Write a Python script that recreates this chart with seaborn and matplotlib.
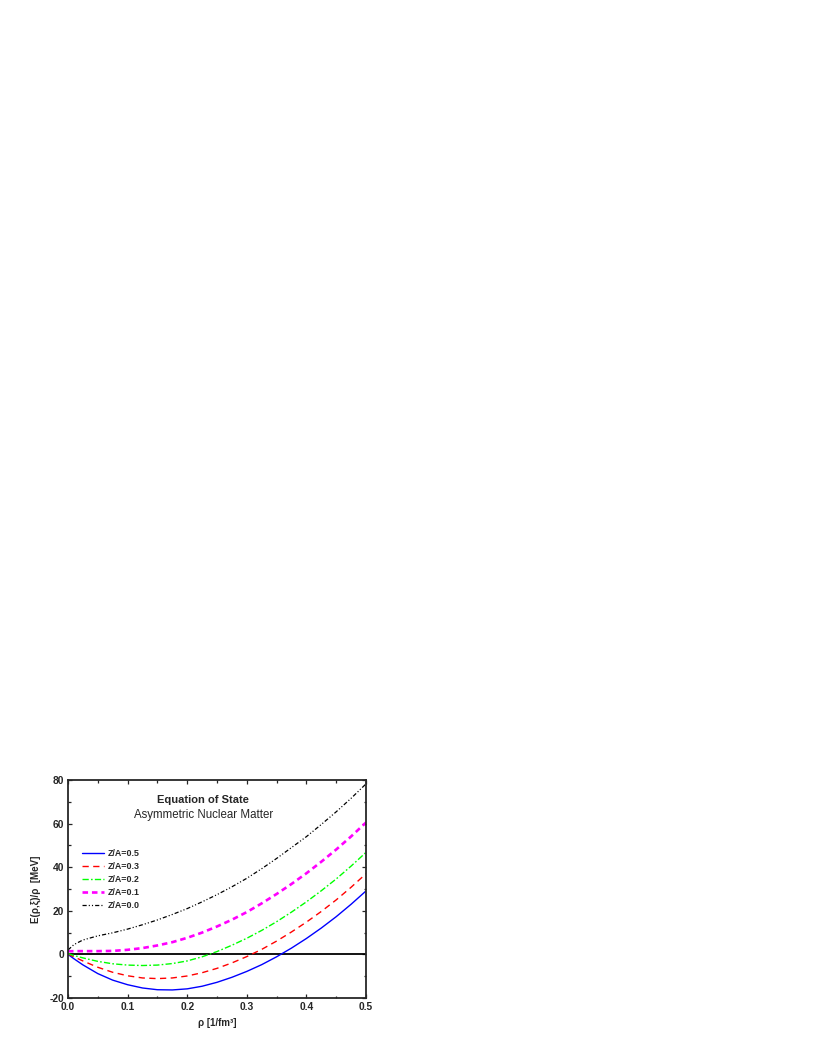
import matplotlib
matplotlib.use("Agg")
import matplotlib.pyplot as plt
from matplotlib.ticker import MultipleLocator
import seaborn as sns

# density grid [1/fm^3] and E/A [MeV]
rho = [0, 0.01, 0.025, 0.05, 0.075, 0.1, 0.125, 0.15, 0.175, 0.2, 0.225,
       0.25, 0.275, 0.3, 0.325, 0.35, 0.375, 0.4, 0.425, 0.45, 0.475, 0.5]
za_05 = [0, -2.0, -4.8, -8.8, -11.8, -13.9, -15.4, -16.2, -16.3, -15.8, -14.6,
         -12.8, -10.5, -7.8, -4.7, -1.1, 2.9, 7.3, 12.1, 17.3, 23.0, 29.1]
za_03 = [0.2, -1.1, -3.0, -5.9, -8.2, -9.8, -10.8, -11.1, -10.8, -9.9, -8.4,
         -6.4, -3.9, -1.0, 2.3, 6.1, 10.3, 14.8, 19.7, 25.0, 30.8, 37.0]
za_02 = [0.4, -0.5, -1.6, -3.2, -4.3, -4.9, -5.1, -4.9, -4.2, -3.0, -1.1,
         1.3, 4.2, 7.4, 11.0, 15.0, 19.4, 24.1, 29.2, 34.6, 40.5, 46.8]
za_01 = [1.4, 1.5, 1.5, 1.5, 1.6, 2.1, 2.9, 4.1, 5.6, 7.6, 10.0,
         12.8, 15.9, 19.4, 23.4, 27.7, 32.3, 37.2, 42.5, 48.1, 54.1, 60.5]
za_00 = [2.0, 4.5, 6.6, 8.5, 9.9, 11.6, 13.6, 15.8, 18.3, 21.0, 24.1,
         27.4, 31.0, 34.9, 39.3, 44.0, 49.0, 54.0, 59.6, 65.4, 71.6, 78.2]
labels = ["Z/A=0.5", "Z/A=0.3", "Z/A=0.2", "Z/A=0.1", "Z/A=0.0"]

sns.set_style("ticks")
plt.rcParams['font.family'] = ['Liberation Sans', 'DejaVu Sans']
plt.rcParams['lines.scale_dashes'] = False
plt.rcParams['axes.unicode_minus'] = False

fig = plt.figure(figsize=(8.17, 10.58), dpi=100)
ax = fig.add_axes([0.0832, 0.0567, 0.3648, 0.2061])

# line styles per curve
styles = [
    dict(color="#0000ff", linewidth=1.0, linestyle="-"),
    dict(color="#ff0000", linewidth=1.0, linestyle=(0, (4.5, 3.2))),
    dict(color="#00ff00", linewidth=1.0, linestyle=(0, (4.5, 1.6, 1.2, 1.6))),
    dict(color="#ff00ff", linewidth=1.9, linestyle=(0, (4, 2.8))),
    dict(color="black", linewidth=0.9, linestyle=(0, (3, 1.5, 0.8, 1.5, 0.8, 1.5))),
]
for vals, lab, st in zip([za_05, za_03, za_02, za_01, za_00], labels, styles):
    sns.lineplot(x=rho, y=vals, ax=ax, label=lab, **st)

ax.axhline(0, color="black", linewidth=1.3, zorder=1)

ax.set_xlim(0, 0.5)
ax.set_ylim(-20, 80)
ax.xaxis.set_major_locator(MultipleLocator(0.1))
ax.xaxis.set_minor_locator(MultipleLocator(0.05))
ax.yaxis.set_major_locator(MultipleLocator(20))
ax.yaxis.set_minor_locator(MultipleLocator(10))
ax.set_xticks([0, 0.1, 0.2, 0.3, 0.4, 0.5])
ax.set_xticklabels(["0.0", "0.1", "0.2", "0.3", "0.4", "0.5"])
ax.tick_params(which="both", direction="in", top=True, right=True,
               labelsize=7.4, width=0.9, pad=3)
ax.tick_params(which="major", length=3.2)
ax.tick_params(which="minor", length=1.8)
for lab in ax.get_xticklabels() + ax.get_yticklabels():
    lab.set_fontweight("bold")
for sp in ax.spines.values():
    sp.set_linewidth(1.3)
    sp.set_visible(True)

ax.set_xlabel("ρ [1/fm³]", fontsize=7, fontweight="bold", labelpad=4)
ax.set_ylabel("E(ρ,ξ)/ρ  [MeV]", fontsize=7, fontweight="bold", labelpad=6)

ax.text(0.227, 71, "Equation of State", fontsize=8, fontweight="bold",
        ha="center", va="center")
ax.text(0.227, 64, "Asymmetric Nuclear Matter", fontsize=8.3,
        ha="center", va="center")

leg = ax.legend(loc="center left", bbox_to_anchor=(0.047, 0.545), frameon=False,
                fontsize=6.4, handlelength=2.5, handletextpad=0.4,
                labelspacing=0.45, borderpad=0, borderaxespad=0)
for t in leg.get_texts():
    t.set_fontweight("bold")

fig.savefig("out.png", dpi=100)
